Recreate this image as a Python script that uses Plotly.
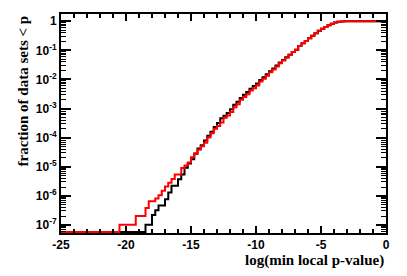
import plotly.graph_objects as go

# --- data (cumulative fraction of data sets with min local p-value < p) ---
black_x = [-25.0, -18.5, -18.0, -17.75, -17.5, -17.0, -16.75, -16.5, -16.0, -15.75,
           -15.5, -15.25, -15.0, -14.75, -14.5, -14.25, -14.0, -13.75, -13.5, -13.25,
           -13.0, -12.75, -12.5, -12.25, -12.0, -11.75, -11.5, -11.25, -11.0, -10.75,
           -10.5, -10.25, -10.0, -9.75, -9.5, -9.25, -9.0, -8.75, -8.5, -8.25,
           -8.0, -7.75, -7.5, -7.25, -7.0, -6.75, -6.5, -6.25, -6.0, -5.75,
           -5.5, -5.25, -5.0, -4.75, -4.5, -4.25, -4.0, -3.75, -3.5, -3.25, 0.0]
black_y = [0, 1.0e-7, 2.2e-7, 3.2e-7, 4.6e-7, 7.6e-7, 1.3e-6, 2.2e-6, 3.7e-6, 5.4e-6,
           9.2e-6, 1.3e-5, 1.8e-5, 2.8e-5, 4.2e-5, 5.5e-5, 8.0e-5, 1.15e-4, 1.6e-4, 2.3e-4,
           3.2e-4, 4.6e-4, 5.6e-4, 7.0e-4, 9.5e-4, 1.35e-3, 1.7e-3, 2.3e-3, 3.0e-3, 3.7e-3,
           4.8e-3, 6.0e-3, 7.2e-3, 9.5e-3, 1.2e-2, 1.5e-2, 1.9e-2, 2.4e-2, 3.0e-2, 3.8e-2,
           4.7e-2, 5.8e-2, 7.1e-2, 8.7e-2, 0.105, 0.14, 0.175, 0.21, 0.26, 0.32,
           0.39, 0.47, 0.55, 0.64, 0.73, 0.82, 0.90, 0.96, 0.99, 1.0, 1.0]

red_x = [-25.0, -20.5, -19.25, -18.5, -18.25, -17.75, -17.5, -17.25, -17.0, -16.75,
         -16.5, -16.25, -15.75, -15.5, -15.25, -15.0, -14.75, -14.5, -14.25, -14.0,
         -13.75, -13.5, -13.25, -13.0, -12.75, -12.5, -12.25, -12.0, -11.75, -11.5,
         -11.25, -11.0, -10.75, -10.5, -10.25, -10.0, -9.75, -9.5, -9.25, -9.0,
         -8.75, -8.5, -8.25, -8.0, -7.75, -7.5, -7.25, -7.0, -6.75, -6.5,
         -6.25, -6.0, -5.75, -5.5, -5.25, -5.0, -4.75, -4.5, -4.25, -4.0,
         -3.75, -3.5, -3.25, 0.0]
red_y = [0, 1.0e-7, 2.0e-7, 3.8e-7, 6.5e-7, 8.0e-7, 1.05e-6, 1.5e-6, 2.1e-6, 2.8e-6,
         3.8e-6, 5.4e-6, 9.0e-6, 1.1e-5, 1.4e-5, 2.1e-5, 2.9e-5, 3.8e-5, 5.0e-5, 6.6e-5,
         1.0e-4, 1.4e-4, 2.0e-4, 2.5e-4, 3.3e-4, 4.8e-4, 5.8e-4, 7.6e-4, 1.1e-3, 1.4e-3,
         2.0e-3, 2.5e-3, 3.1e-3, 4.2e-3, 5.0e-3, 6.2e-3, 8.5e-3, 1.05e-2, 1.35e-2, 1.75e-2,
         2.2e-2, 2.8e-2, 3.6e-2, 4.5e-2, 5.6e-2, 7.0e-2, 8.7e-2, 0.105, 0.14, 0.175,
         0.21, 0.26, 0.32, 0.39, 0.47, 0.55, 0.64, 0.73, 0.82, 0.90,
         0.96, 0.99, 1.0, 1.0]

y_tick_vals = [1, 1e-1, 1e-2, 1e-3, 1e-4, 1e-5, 1e-6, 1e-7]
y_tick_text = ["1", "10<sup>-1</sup>", "10<sup>-2</sup>", "10<sup>-3</sup>",
               "10<sup>-4</sup>", "10<sup>-5</sup>", "10<sup>-6</sup>", "10<sup>-7</sup>"]
x_tick_vals = [-25, -20, -15, -10, -5, 0]
x_tick_text = ["-25", "-20", "-15", "-10", "-5", "0"]

Y_LOG_MIN, Y_LOG_MAX = -7.28, 0.25
floor = 10 ** -7.245  # empty bins drawn on the frame bottom


def plot_vals(v):
    return [val if val > 0 else floor for val in v]


minor_y = [k * 10 ** d for d in range(-8, 1) for k in range(2, 10)]

fig = go.Figure()
fig.add_trace(go.Scatter(x=black_x, y=plot_vals(black_y), mode="lines",
                         line=dict(color="#000000", width=2, shape="hv"),
                         showlegend=False, hoverinfo="skip"))
fig.add_trace(go.Scatter(x=red_x, y=plot_vals(red_y), mode="lines",
                         line=dict(color="#ff0000", width=2, shape="hv"),
                         showlegend=False, hoverinfo="skip"))

tickfont = dict(family="Liberation Sans, Arial, sans-serif", size=12, color="black", weight="bold")
titlefont = dict(family="Liberation Serif, Times New Roman, serif", size=15, color="black", weight="bold")

fig.update_layout(
    width=407, height=276,
    margin=dict(l=61, r=21, t=14, b=43),
    paper_bgcolor="white", plot_bgcolor="white",
    xaxis=dict(range=[-25, 0], tickvals=x_tick_vals, ticktext=x_tick_text,
               ticks="inside", ticklen=7, tickwidth=1.5, tickcolor="black",
               showline=True, linewidth=2, linecolor="black", mirror="allticks",
               showgrid=False, zeroline=False, tickfont=tickfont,
               minor=dict(ticks="inside", ticklen=4, tickwidth=1.5, tickcolor="black",
                          dtick=1, showgrid=False)),
    yaxis=dict(type="log", range=[Y_LOG_MIN, Y_LOG_MAX], tickvals=y_tick_vals,
               ticktext=y_tick_text, ticks="inside", ticklen=10, tickwidth=1.5,
               tickcolor="black", showline=True, linewidth=2, linecolor="black",
               mirror="allticks", showgrid=False, zeroline=False, tickfont=tickfont,
               minor=dict(ticks="inside", ticklen=5, tickwidth=1, tickcolor="black",
                          tickvals=minor_y, showgrid=False)),
    annotations=[
        dict(text="log(min local p-value)", xref="paper", yref="paper",
             x=1.0, y=0, xanchor="right", yanchor="top", yshift=-17,
             showarrow=False, font=titlefont),
        dict(text="fraction of data sets < p", xref="paper", yref="paper",
             x=0, y=1.0, xanchor="center", yanchor="top", xshift=-39,
             textangle=-90, showarrow=False, font=titlefont),
    ],
)

fig.write_html("out.html", config={"displayModeBar": False},
               post_script="document.body.style.margin='0';")
